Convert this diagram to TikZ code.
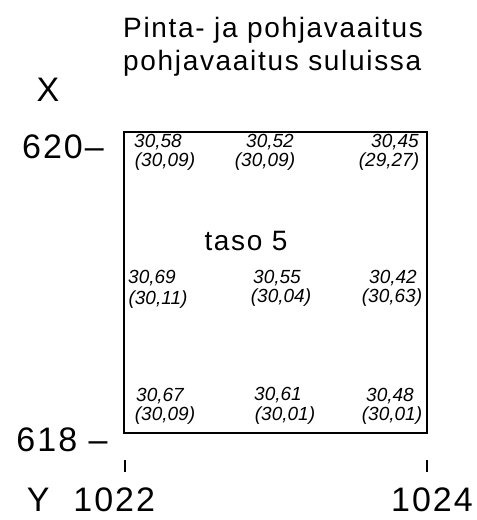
\documentclass[tikz,border=0pt]{standalone}
\usepackage{fontspec}
\newfontfamily\dinfont[LetterSpace=6]{Liberation Sans}
\newfontfamily\kasiala{Liberation Sans}
\tikzset{
  otsikko/.style={font=\dinfont\fontsize{28}{32}\selectfont, anchor=base west, inner sep=0pt},
  akseli/.style={font=\dinfont\fontsize{34}{40}\selectfont, inner sep=0pt},
  lukema/.style={font=\kasiala\itshape\fontsize{19}{21}\selectfont, inner sep=0pt},
}

\begin{document}
\begin{tikzpicture}[x=1pt,y=-1pt]
\useasboundingbox (0,0) rectangle (477,520);

\node[otsikko] (rivi1) at (123,37) {Pinta- ja pohjavaaitus};
\node[otsikko] (rivi2) at (123,70) {pohjavaaitus suluissa};

\node[akseli] (xakseli) at (48,90) {X};
\node[akseli] (x620) at (63,147) {620–};
\node[akseli] (x618) at (62,440) {618 –};

\draw[line width=1.8pt] (124,132) rectangle (427,433);

% ylarivi
\node[lukema] (a1) at (158,142) {30,58};
\node[lukema] (a2) at (165,162) {(30,09)};
\node[lukema] (b1) at (270,142) {30,52};
\node[lukema] (b2) at (265,162) {(30,09)};
\node[lukema] (c1) at (395,142) {30,45};
\node[lukema] (c2) at (389,162) {(29,27)};

\node[akseli,font=\dinfont\fontsize{28}{32}\selectfont] (taso) at (246,241) {taso 5};

% keskirivi
\node[lukema] (d1) at (152,278) {30,69};
\node[lukema] (d2) at (158,300) {(30,11)};
\node[lukema] (e1) at (277,278) {30,55};
\node[lukema] (e2) at (281,298) {(30,04)};
\node[lukema] (f1) at (393,278) {30,42};
\node[lukema] (f2) at (392,298) {(30,63)};

% alarivi
\node[lukema] (g1) at (160,396) {30,67};
\node[lukema] (g2) at (165,416) {(30,09)};
\node[lukema] (h1) at (278,395) {30,61};
\node[lukema] (h2) at (285,416) {(30,01)};
\node[lukema] (i1) at (390,396) {30,48};
\node[lukema] (i2) at (392,416) {(30,01)};

\draw[line width=1.5pt] (125,460) -- (125,472);
\draw[line width=1.5pt] (427,460) -- (427,472);

\node[akseli] (y1022) at (91,500) {Y\hspace{0.7em}1022};
\node[akseli] (y1024) at (432,500) {1024};
\end{tikzpicture}
\end{document}
